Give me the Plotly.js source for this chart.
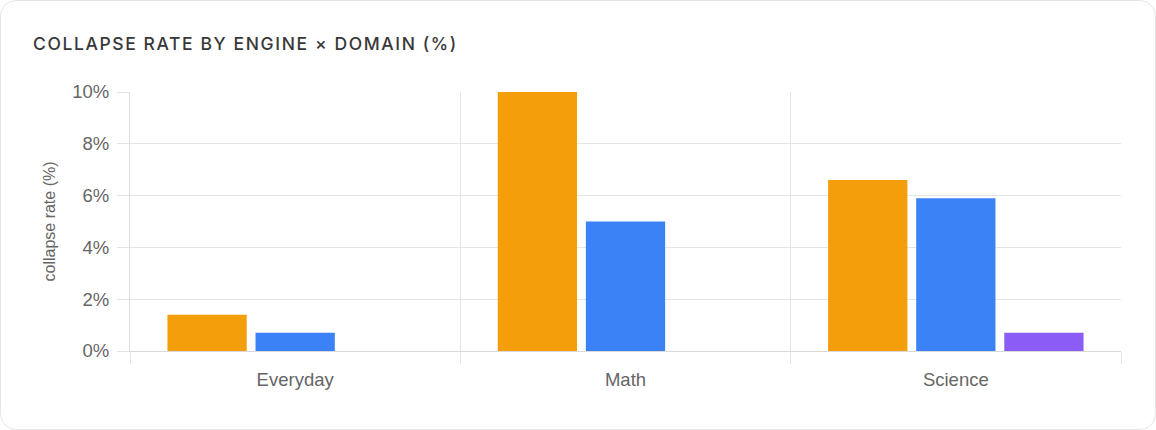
<!DOCTYPE html>
<html>
<head>
<meta charset="utf-8">
<script src="https://cdn.plot.ly/plotly-3.0.1.min.js"></script>
<style>
  html, body { margin: 0; padding: 0; background: #ffffff; }
  #card {
    position: absolute; left: 0; top: 0; width: 1154px; height: 428px;
    border: 1px solid #e6e6e6; border-radius: 16px; background: #ffffff; overflow: hidden;
  }
  #chart { position: absolute; left: -1px; top: -1px; width: 1156px; height: 430px; }
  #chart .gtitle { letter-spacing: 1.6px; }
</style>
</head>
<body>
<div id="card"><div id="chart"></div></div>
<script>
const domains = ["Everyday", "Math", "Science"];
const engineNames = ["Engine A", "Engine B", "Engine C"];
const engineA = [1.4, 10.0, 6.6];
const engineB = [0.7, 5.0, 5.9];
const engineC = [0, 0, 0.7];
const engineColors = ["#f59e0b", "#3b82f6", "#8b5cf6"];
const yTickVals = [0, 2, 4, 6, 8, 10];
const yTickText = ["0%", "2%", "4%", "6%", "8%", "10%"];

const series = [engineA, engineB, engineC];
const traces = series.map((vals, i) => ({
  type: "bar",
  name: engineNames[i],
  x: domains,
  y: vals,
  marker: { color: engineColors[i], line: { width: 0 } },
  hoverinfo: "x+y"
}));

const layout = {
  width: 1156, height: 430,
  paper_bgcolor: "rgba(0,0,0,0)", plot_bgcolor: "rgba(0,0,0,0)",
  margin: { l: 130, r: 35, t: 92, b: 79 },
  showlegend: false,
  barmode: "group", bargap: 0.2, bargroupgap: 0.1,
  title: {
    text: "COLLAPSE RATE BY ENGINE × DOMAIN (%)",
    x: 33 / 1156, xref: "container", xanchor: "left", y: 1, yref: "container", yanchor: "top",
    font: { family: "Inter, 'Noto Sans', sans-serif", size: 17.5, weight: 500, color: "#383838" },
    pad: { t: 38 }
  },
  font: { family: "'Liberation Sans', Arial, sans-serif", color: "#666666" },
  xaxis: {
    type: "category",
    tickson: "boundaries",
    showgrid: true, gridcolor: "#e5e5e5", gridwidth: 1,
    ticks: "outside", ticklen: 12, tickcolor: "#e5e5e5",
    showline: true, linecolor: "#d9d9d9", linewidth: 1,
    tickfont: { size: 18.5, color: "#666666" },
    ticklabelstandoff: 12,
    zeroline: false, fixedrange: true
  },
  yaxis: {
    range: [0, 10],
    tickvals: yTickVals, ticktext: yTickText,
    showgrid: true, gridcolor: "#e5e5e5", gridwidth: 1,
    ticks: "outside", ticklen: 12, tickcolor: "#e5e5e5",
    showline: true, linecolor: "#e0e0e0", linewidth: 1,
    zeroline: false,
    tickfont: { size: 18.5, color: "#666666" },
    ticklabelstandoff: 4,
    title: { text: "collapse rate (%)", font: { size: 16, color: "#666666" }, standoff: 12 },
    fixedrange: true
  }
};

Plotly.newPlot("chart", traces, layout, { displayModeBar: false, staticPlot: true });
</script>
</body>
</html>
